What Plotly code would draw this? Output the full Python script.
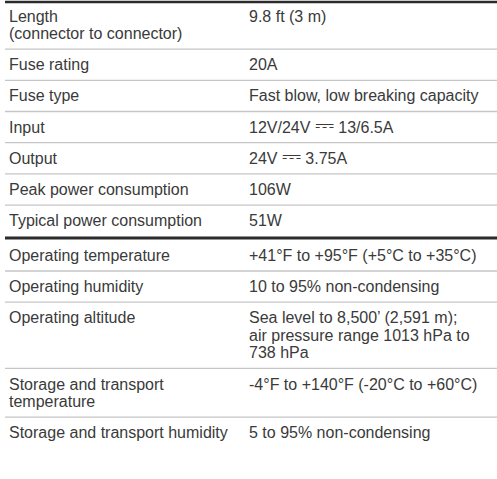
import plotly.graph_objects as go

# ---- table content ----
labels = [
    "Length\n(connector to connector)",
    "Fuse rating",
    "Fuse type",
    "Input",
    "Output",
    "Peak power consumption",
    "Typical power consumption",
    "Operating temperature",
    "Operating humidity",
    "Operating altitude",
    "Storage and transport\ntemperature",
    "Storage and transport humidity",
]
values = [
    "9.8 ft (3 m)",
    "20A",
    "Fast blow, low breaking capacity",
    "12V/24V {dc} 13/6.5A",
    "24V {dc} 3.75A",
    "106W",
    "51W",
    "+41°F to +95°F (+5°C to +35°C)",
    "10 to 95% non-condensing",
    "Sea level to 8,500’ (2,591 m);\nair pressure range 1013 hPa to\n738 hPa",
    "-4°F to +140°F (-20°C to +60°C)",
    "5 to 95% non-condensing",
]
group_break_after = [6]  # thick rule after "Typical power consumption"

W, H = 497, 479
FONT = "Liberation Sans, Arial, sans-serif"
FS = 16
TXT = "#3a3a3a"
ROW_GAP = 31.2     # text-to-text spacing across a thin rule
LINE_H = 17.5      # spacing between lines inside a cell
THICK_EXTRA = 3.5
FIRST_TEXT_Y = 16
TOP_RULE_Y = 2
X_LEFT = 7
X_RIGHT = 247
RULE_X0 = 5
DC = '<span style="font-size:24px">\u2393</span>'

fig = go.Figure()
annotations = []
shapes = []


def add_text(x, y, t):
    has_dc = "\u2393" in t
    annotations.append(dict(x=x, y=y, text=t, xref="x", yref="y",
                            xanchor="left", yanchor="middle", showarrow=False,
                            yshift=3 if has_dc else 0,
                            font=dict(family=FONT, size=FS, color=TXT)))


shapes.append(dict(type="line", x0=RULE_X0, x1=W, y0=TOP_RULE_Y, y1=TOP_RULE_Y,
                   xref="x", yref="y", line=dict(color="#2b2b2b", width=2.5)))

y = FIRST_TEXT_Y
for i, (lab, val) in enumerate(zip(labels, values)):
    llines = lab.split("\n")
    vlines = val.replace("{dc}", DC).split("\n")
    n = max(len(llines), len(vlines))
    for k, t in enumerate(llines):
        add_text(X_LEFT, y + LINE_H * k, t)
    for k, t in enumerate(vlines):
        add_text(X_RIGHT, y + LINE_H * k, t)
    last = y + LINE_H * (n - 1)
    if i == len(labels) - 1:
        break
    if i in group_break_after:
        ry = last + (ROW_GAP + THICK_EXTRA) / 2
        shapes.append(dict(type="line", x0=RULE_X0, x1=W, y0=ry, y1=ry,
                           xref="x", yref="y", line=dict(color="#2b2b2b", width=3)))
        y = last + ROW_GAP + THICK_EXTRA
    else:
        ry = last + ROW_GAP / 2
        shapes.append(dict(type="line", x0=RULE_X0, x1=W, y0=ry, y1=ry,
                           xref="x", yref="y", line=dict(color="#c6c6c6", width=1.3)))
        y = last + ROW_GAP

fig.update_layout(
    width=W, height=H,
    margin=dict(l=0, r=0, t=0, b=0),
    paper_bgcolor="white", plot_bgcolor="white",
    xaxis=dict(range=[0, W], visible=False, fixedrange=True),
    yaxis=dict(range=[H, 0], visible=False, fixedrange=True),
    annotations=annotations,
    shapes=shapes,
    showlegend=False,
)
fig.write_html("out.html", config={"displayModeBar": False},
               post_script="document.body.style.margin='0';")
